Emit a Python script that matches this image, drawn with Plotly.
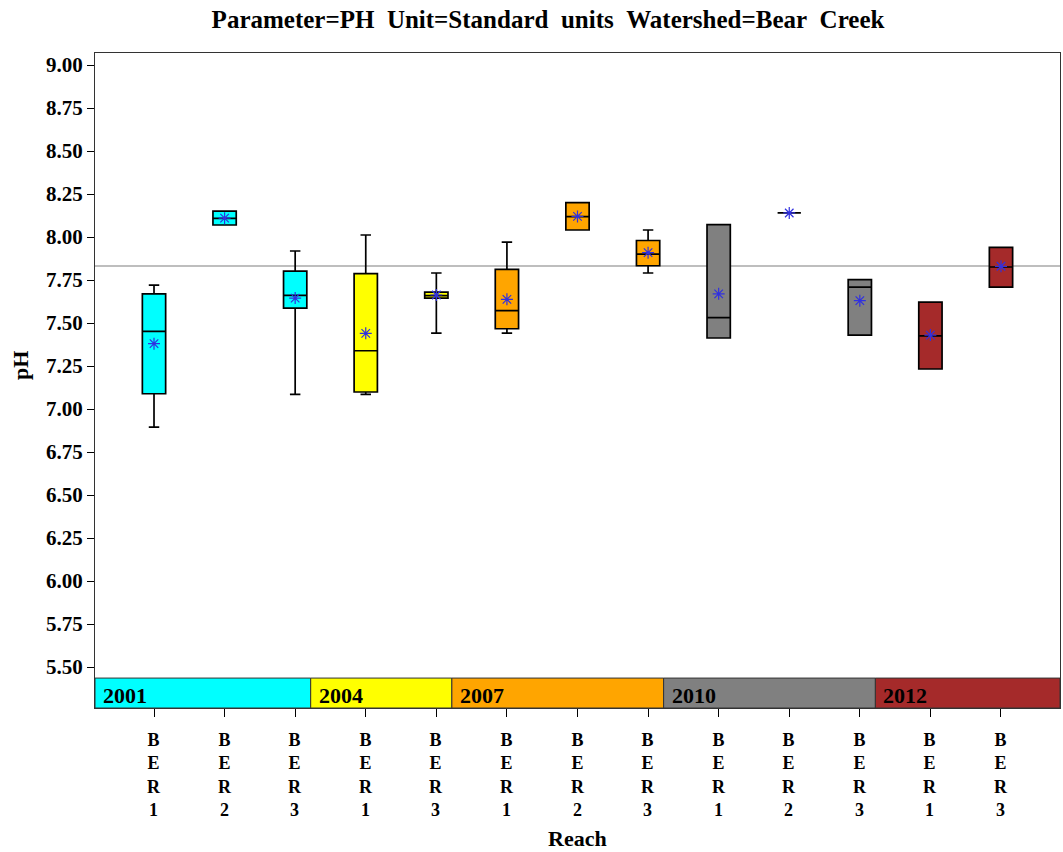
import plotly.graph_objects as go

# ---- data ----
reach = ["BER1", "BER2", "BER3", "BER1", "BER3", "BER1", "BER2", "BER3",
         "BER1", "BER2", "BER3", "BER1", "BER3"]
year = [2001, 2001, 2001, 2004, 2004, 2007, 2007, 2007, 2010, 2010, 2010, 2012, 2012]
lower = [6.895, 8.07, 7.085, 7.085, 7.442, 7.442, 8.041, 7.791, 7.413, 8.14, 7.43, 7.233, 7.709]
q1 = [7.089, 8.07, 7.587, 7.099, 7.645, 7.467, 8.041, 7.833, 7.413, 8.14, 7.43, 7.233, 7.709]
median = [7.452, 8.109, 7.661, 7.339, 7.66, 7.572, 8.119, 7.901, 7.531, 8.14, 7.709, 7.426, 7.826]
q3 = [7.67, 8.151, 7.802, 7.787, 7.68, 7.812, 8.2, 7.98, 8.072, 8.14, 7.752, 7.622, 7.94]
upper = [7.721, 8.151, 7.919, 8.012, 7.791, 7.971, 8.2, 8.041, 8.072, 8.14, 7.752, 7.622, 7.94]
mean = [7.38, 8.11, 7.645, 7.44, 7.663, 7.638, 8.12, 7.909, 7.67, 8.14, 7.63, 7.43, 7.83]
overall_ref = 7.831

years = [2001, 2004, 2007, 2010, 2012]
year_colors = {2001: "#00FFFF", 2004: "#FFFF00", 2007: "#FFA500", 2010: "#808080", 2012: "#A52A2A"}
yticks = [5.5, 5.75, 6.0, 6.25, 6.5, 6.75, 7.0, 7.25, 7.5, 7.75, 8.0, 8.25, 8.5, 8.75, 9.0]

FONT = "Liberation Serif"
n = len(reach)
xmin, xmax = -0.836, n - 1 + 0.836
ymin, ymax = 5.262, 9.07
band_top = 5.436

W, H = 1063, 852
L, R, T, B = 95, 3, 53, 144
plot_h = H - T - B

fig = go.Figure()

fig.add_hline(y=overall_ref, line=dict(color="#A9A9A9", width=1.5), layer="below")

for i in range(n):
    fig.add_trace(go.Box(
        x=[i], q1=[q1[i]], median=[median[i]], q3=[q3[i]],
        lowerfence=[lower[i]], upperfence=[upper[i]],
        width=0.33, whiskerwidth=0.45,
        fillcolor=year_colors[year[i]],
        line=dict(color="black", width=1.7),
        boxpoints=False, showlegend=False,
    ))

fig.add_trace(go.Scatter(
    x=list(range(n)), y=mean, mode="markers",
    marker=dict(symbol="asterisk", size=10, color="#3030E0",
                line=dict(color="#3030E0", width=1.2)),
    showlegend=False,
))

# year band
starts = {}
for i, yr in enumerate(year):
    starts.setdefault(yr, i)
for k, yr in enumerate(years):
    x0 = xmin if k == 0 else starts[yr] - 0.78
    x1 = xmax if k == len(years) - 1 else starts[years[k + 1]] - 0.78
    fig.add_shape(type="rect", x0=x0, x1=x1, y0=ymin, y1=band_top,
                  xref="x", yref="y", fillcolor=year_colors[yr],
                  line=dict(color="#333333", width=1), layer="above")
    fig.add_annotation(x=x0, y=(ymin + band_top) / 2 - 0.015, xref="x", yref="y",
                       text="<b>%d</b>" % yr, showarrow=False, xanchor="left",
                       yanchor="middle", xshift=6,
                       font=dict(family=FONT, size=22, color="black"))

# vertical category labels
for i, r in enumerate(reach):
    fig.add_annotation(x=i, y=0, xref="x", yref="paper",
                       text="<b>" + "<br>".join(r) + "</b>",
                       showarrow=False, xanchor="center", yanchor="top",
                       yshift=-20,
                       font=dict(family=FONT, size=18, color="black"))

fig.add_annotation(x=0.5005, y=0, xref="paper", yref="paper", text="<b>Reach</b>",
                   showarrow=False, xanchor="center", yanchor="middle", yshift=-130,
                   font=dict(family=FONT, size=22, color="black"))
fig.add_annotation(x=-75 / (W - L - R), y=(708 - 366) / plot_h, xref="paper", yref="paper",
                   text="<b>pH</b>", showarrow=False, textangle=-90,
                   xanchor="center", yanchor="middle",
                   font=dict(family=FONT, size=22, color="black"))

fig.update_layout(
    width=W, height=H,
    margin=dict(l=L, r=R, t=T, b=B, autoexpand=False),
    paper_bgcolor="white", plot_bgcolor="white",
    title=dict(text="<b>Parameter=PH\u00a0\u00a0Unit=Standard\u00a0\u00a0units\u00a0\u00a0Watershed=Bear\u00a0\u00a0Creek</b>",
               x=548 / W, xref="container", xanchor="center",
               y=1 - 19 / H, yref="container", yanchor="middle",
               font=dict(family=FONT, size=25, color="black")),
    xaxis=dict(range=[xmin, xmax], tickvals=list(range(n)), showticklabels=False,
               ticks="outside", ticklen=8, tickcolor="black", tickwidth=1,
               showgrid=False, zeroline=False, showline=True, linecolor="#333333",
               linewidth=1, mirror=True, automargin=False),
    yaxis=dict(range=[ymin, ymax], tickvals=yticks,
               ticktext=["<b>%.2f</b>" % v for v in yticks],
               ticks="outside", ticklen=7, tickcolor="black", tickwidth=1,
               tickfont=dict(family=FONT, size=21, color="black"),
               showgrid=False, zeroline=False, showline=True, linecolor="#333333",
               linewidth=1, mirror=True, automargin=False),
    font=dict(family=FONT, color="black"),
)

fig.write_html("out.html",
               config={"displayModeBar": False},
               post_script="document.body.style.margin='0px';document.body.style.overflow='hidden';")
